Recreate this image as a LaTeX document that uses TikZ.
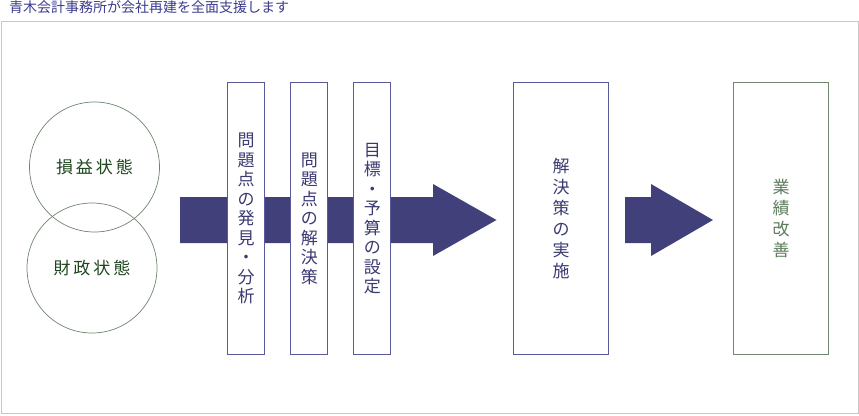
\documentclass[tikz,border=0pt]{standalone}
\usepackage{fontspec}
\setmainfont{Noto Sans CJK JP}
\usetikzlibrary{positioning}
\definecolor{flowblue}{HTML}{41407A}
\definecolor{boxline}{HTML}{5A5A98}
\definecolor{boxtext}{HTML}{3A3A72}
\definecolor{titleblue}{HTML}{3C3C8E}
\definecolor{circline}{HTML}{6E846E}
\definecolor{circtext}{HTML}{1E461E}
\definecolor{goodgreen}{HTML}{6F876F}
\definecolor{goodtext}{HTML}{5C7C5C}

\begin{document}
\begin{tikzpicture}[x=1pt, y=-1pt,
  stepbox/.style={rectangle, draw=boxline, line width=0.9pt, fill=white,
                  minimum width=37pt, minimum height=272pt, inner sep=0pt,
                  align=center, text=boxtext, font=\fontsize{17}{19.5}\selectfont},
  widebox/.style={stepbox, minimum width=95pt, font=\fontsize{17}{21}\selectfont},
  goalbox/.style={widebox, draw=goodgreen, text=goodtext},
  state/.style={circle, draw=circline, line width=0.7pt, minimum size=130pt,
                inner sep=0pt, text=circtext, font=\fontsize{17}{20}\selectfont},
  flow/.style={fill=flowblue}]
  \useasboundingbox (0,0) rectangle (859,415);
  % frame and title
  \draw[black!22, line width=0.9pt] (1,21) rectangle (858,413.5);
  \node[anchor=west, inner sep=0pt, text=titleblue, font=\fontsize{14}{16}\selectfont]
    (title) at (9,7.5) {青木会計事務所が会社再建を全面支援します};
  % arrows
  \fill[flow] (180,197) -- (433,197) -- (433,184) -- (496.5,220) -- (433,256)
              -- (433,243) -- (180,243) -- cycle;
  \fill[flow] (625,197) -- (651,197) -- (651,184) -- (713,220) -- (651,256)
              -- (651,243) -- (625,243) -- cycle;
  % states
  \node[state] (pl) at (94.5,167) {損\hspace{3pt}益\hspace{3pt}状\hspace{3pt}態};
  \node[state] (fin) at (92,268) {財\hspace{3pt}政\hspace{3pt}状\hspace{3pt}態};
  % steps
  \node[stepbox] (find) at (246,218.5) {問\\題\\点\\の\\発\\見\\・\\分\\析};
  \node[stepbox, right=25.5pt of find] (solve) {問\\題\\点\\の\\解\\決\\策};
  \node[stepbox, right=25pt of solve] (plan) {目\\標\\・\\予\\算\\の\\設\\定};
  \node[widebox] (act) at (561,218.5) {解\\決\\策\\の\\実\\施};
  \node[goalbox] (good) at (781,218.5) {業\\績\\改\\善};
\end{tikzpicture}
\end{document}
